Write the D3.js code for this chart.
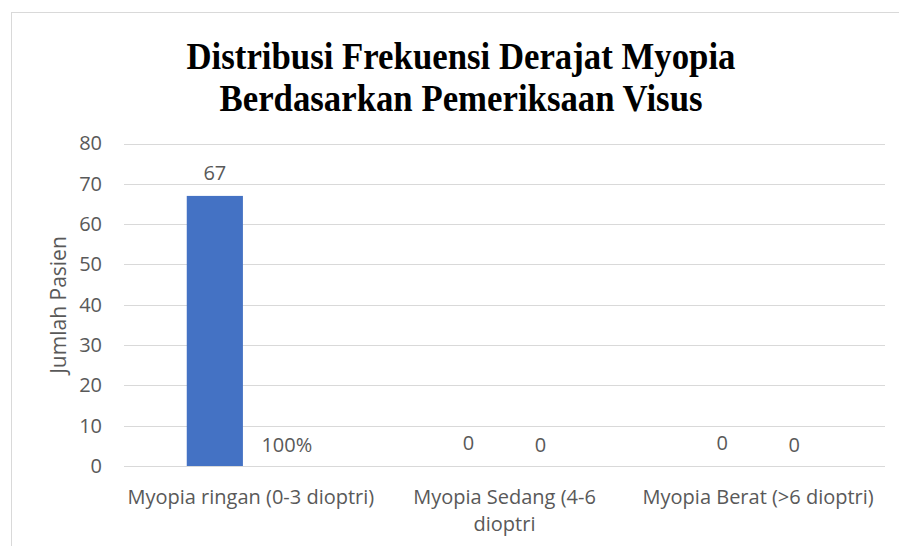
<!DOCTYPE html>
<html>
<head>
<meta charset="utf-8">
<script src="https://cdn.jsdelivr.net/npm/d3@7"></script>
<style>
  html, body { margin: 0; padding: 0; background: #fff; }
  svg { display: block; }
</style>
</head>
<body>
<svg id="chart" width="899" height="546"></svg>
<script>
const categories = ["Myopia ringan (0-3 dioptri)", "Myopia Sedang (4-6 dioptri", "Myopia Berat (>6 dioptri)"];
const counts = [67, 0, 0];
const percents = [1, 0, 0];
const yTicks = [0, 10, 20, 30, 40, 50, 60, 70, 80];
const titleLines = ["Distribusi Frekuensi Derajat Myopia", "Berdasarkan Pemeriksaan Visus"];
const yTitle = "Jumlah Pasien";

const svg = d3.select("#chart");
const W = 899, H = 546;
const plotL = 124, plotR = 885, plotT = 143.5, plotB = 466;
const textColor = "#595959";
const font = "'Open Sans', 'Noto Sans', sans-serif";
const fs = 20;

// border
svg.append("rect").attr("x", 11.5).attr("y", 12.5).attr("width", W).attr("height", H)
  .attr("fill", "none").attr("stroke", "#d9d9d9").attr("stroke-width", 1);

// title (condensed bold serif)
const titleWidths = [549, 483];
titleLines.forEach((t, i) => {
  svg.append("text")
    .attr("x", 461).attr("y", 69 + i * 41.5)
    .attr("text-anchor", "middle")
    .attr("font-family", "'Liberation Serif', 'Times New Roman', serif")
    .attr("font-weight", "bold")
    .attr("font-size", 37)
    .attr("textLength", titleWidths[i])
    .attr("lengthAdjust", "spacingAndGlyphs")
    .attr("fill", "#000")
    .text(t);
});

const y = d3.scaleLinear().domain([0, 80]).range([plotB, plotT]);
const x0 = d3.scaleBand().domain(categories).range([plotL, plotR]).padding(0);
const series = ["count", "pct"];
const x1 = d3.scaleBand().domain(series).range([0, 144]).paddingInner(0.22).paddingOuter(0.11);

// gridlines
svg.append("g").selectAll("line").data(yTicks).join("line")
  .attr("x1", plotL).attr("x2", plotR)
  .attr("y1", d => Math.round(y(d)) + 0.5).attr("y2", d => Math.round(y(d)) + 0.5)
  .attr("stroke", "#d9d9d9").attr("stroke-width", 1);

// y axis labels
const yAxis = d3.axisLeft(y).tickValues(yTicks).tickSize(0).tickPadding(0);
const gy = svg.append("g").attr("transform", `translate(102,0)`).call(yAxis);
gy.select(".domain").remove();
gy.selectAll("text").attr("font-family", font).attr("font-size", fs).attr("fill", textColor);

// y title
svg.append("text")
  .attr("transform", `translate(66,305) rotate(-90)`)
  .attr("text-anchor", "middle")
  .attr("font-family", font).attr("font-size", 21).attr("fill", textColor)
  .text(yTitle);

// groups
const groupOffset = (x0.bandwidth() - 144) / 2;
const rows = categories.map((c, i) => ({ cat: c, vals: [
  { key: "count", v: counts[i], label: String(counts[i]) },
  { key: "pct", v: percents[i], label: percents[i] === 0 ? "0" : d3.format(".0%")(percents[i]) }
]}));

const g = svg.append("g").selectAll("g").data(rows).join("g")
  .attr("transform", d => `translate(${x0(d.cat) + groupOffset},0)`);

// count bars (the percentage series has no visible bar in the reference)
g.selectAll("rect").data(d => d.vals.filter(v => v.key === "count")).join("rect")
  .attr("x", d => x1(d.key)).attr("width", x1.bandwidth())
  .attr("y", d => y(d.v)).attr("height", d => y(0) - y(d.v))
  .attr("fill", "#4472C4");

g.selectAll("text.lbl").data(d => d.vals).join("text").attr("class", "lbl")
  .attr("x", d => x1(d.key) + x1.bandwidth() / 2)
  .attr("y", d => d.key === "count" ? y(d.v) - 16 : y(0) - 14)
  .attr("text-anchor", "middle")
  .attr("font-family", font).attr("font-size", fs).attr("fill", textColor)
  .text(d => d.label);

// category labels with wrapping
const maxW = 247.5;
categories.forEach(c => {
  const cx = x0(c) + x0.bandwidth() / 2;
  const t = svg.append("text").attr("x", cx).attr("y", 504)
    .attr("text-anchor", "middle")
    .attr("font-family", font).attr("font-size", fs).attr("fill", textColor);
  const words = c.split(" ");
  let line = [];
  let ts = t.append("tspan").attr("x", cx).attr("dy", 0);
  words.forEach(w => {
    line.push(w);
    ts.text(line.join(" "));
    if (ts.node().getComputedTextLength() > maxW && line.length > 1) {
      line.pop();
      ts.text(line.join(" "));
      line = [w];
      ts = t.append("tspan").attr("x", cx).attr("dy", 27).text(w);
    }
  });
});
</script>
</body>
</html>
